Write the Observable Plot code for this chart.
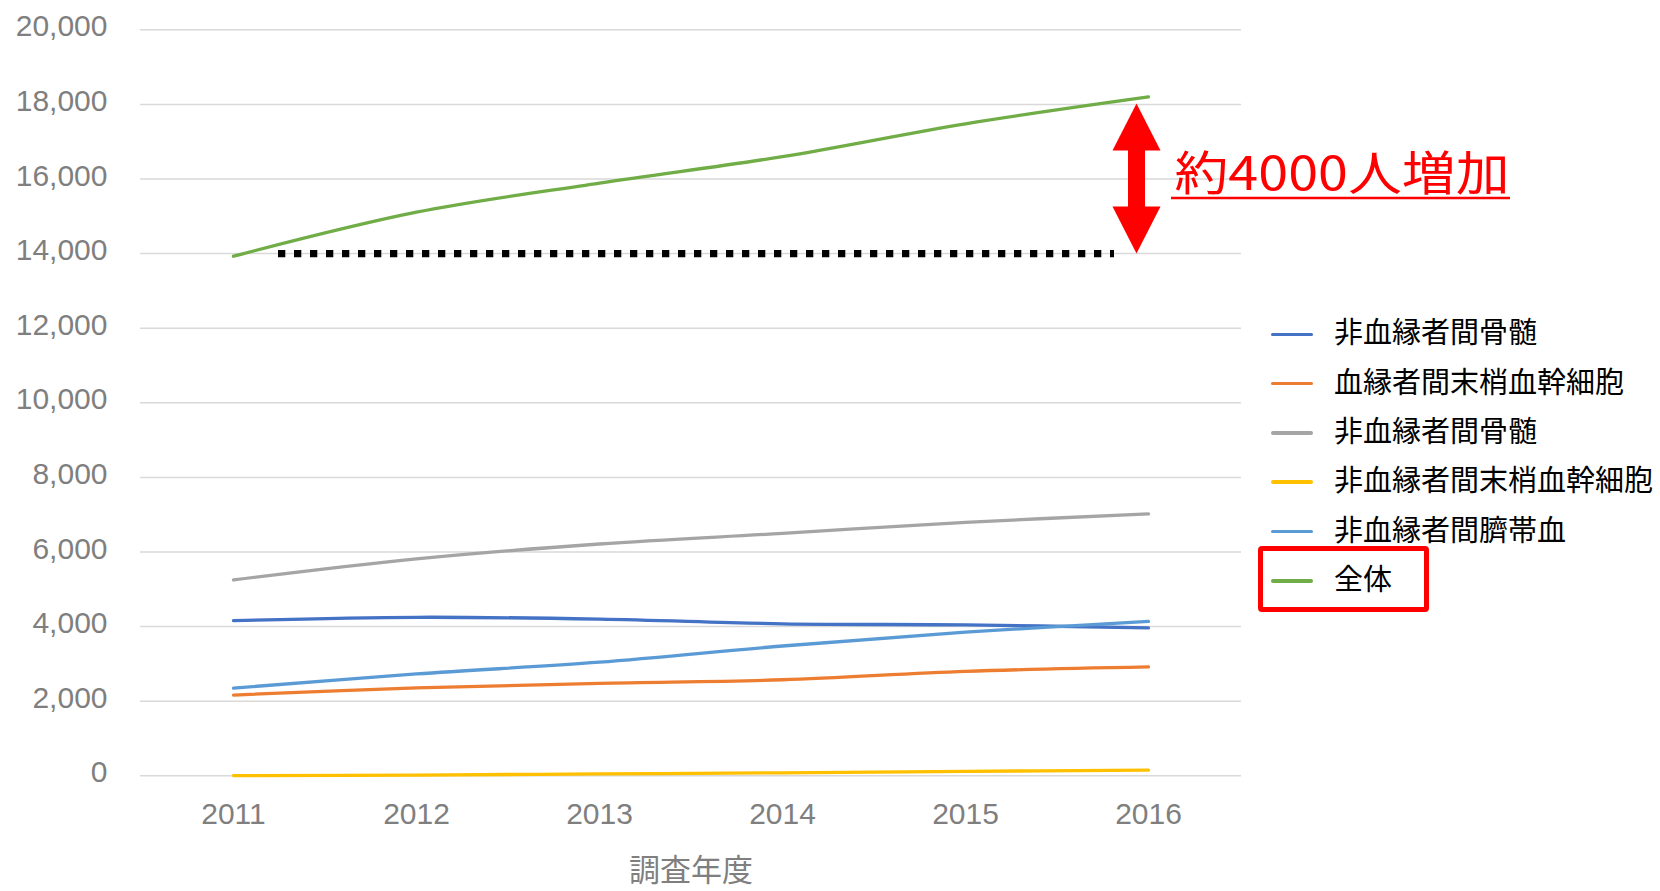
<!DOCTYPE html>
<html><head><meta charset="utf-8">
<script src="https://cdn.jsdelivr.net/npm/d3@7"></script>
<script src="https://cdn.jsdelivr.net/npm/@observablehq/plot@0.6"></script>
<style>
html,body{margin:0;padding:0;background:#fff;}
#wrap{position:relative;width:1660px;height:891px;overflow:hidden;background:#fff;}
#wrap svg{position:absolute;left:0;top:0;}
.lg-line{position:absolute;left:1271px;width:42px;height:3.5px;border-radius:2px;}
.lg-text{position:absolute;left:1334px;font-family:"Noto Sans CJK JP","Noto Sans",sans-serif;font-size:29px;line-height:29px;color:#000;white-space:nowrap;}
.lg-box{position:absolute;left:1258px;top:546px;width:171px;height:66px;border:5px solid #ff0000;box-sizing:border-box;border-radius:4px;}
</style></head><body><div id="wrap"></div>
<script>
const years = ["2011", "2012", "2013", "2014", "2015", "2016"];
const seriesNames = ["非血縁者間骨髄", "血縁者間末梢血幹細胞", "非血縁者間骨髄", "非血縁者間末梢血幹細胞", "非血縁者間臍帯血", "全体"];
const seriesColors = ["#4472C4", "#ED7D31", "#A5A5A5", "#FFC000", "#5B9BD5", "#70AD47"];
const sBoneMarrowUnrel = [4160, 4250, 4200, 4075, 4045, 3965];
const sPBSCRelated = [2165, 2355, 2480, 2575, 2800, 2920];
const sBoneMarrowGray = [5250, 5815, 6215, 6500, 6795, 7020];
const sPBSCUnrel = [5, 20, 50, 80, 120, 150];
const sCordBlood = [2350, 2730, 3045, 3480, 3850, 4140];
const sTotal = [13930, 15110, 15890, 16600, 17480, 18200];
const yTicks = [0, 2000, 4000, 6000, 8000, 10000, 12000, 14000, 16000, 18000, 20000];
const xTitle = "調査年度";
const annoLow = 14000;
const annoHigh = 18000;
const annoLabel = "約4000人増加";

const seriesValues = [sBoneMarrowUnrel, sPBSCRelated, sBoneMarrowGray, sPBSCUnrel, sCordBlood, sTotal];
const keys = seriesValues.map((_, i) => "s" + i);
const data = seriesValues.flatMap((vals, i) => vals.map((v, j) => ({key: keys[i], year: years[j], value: v})));
const annot = [{year: years[years.length - 1], first: years[0], low: annoLow, high: annoHigh, mid: (annoLow + annoHigh) / 2, label: annoLabel}];

const triUp = {draw(ctx) { ctx.moveTo(0, 0); ctx.lineTo(24, 47); ctx.lineTo(-24, 47); ctx.closePath(); }};
const triDown = {draw(ctx) { ctx.moveTo(0, 0); ctx.lineTo(24, -47); ctx.lineTo(-24, -47); ctx.closePath(); }};

const plot = Plot.plot({
  width: 1660,
  height: 891,
  marginLeft: 140,
  marginRight: 419,
  marginTop: 29.3,
  marginBottom: 115.7,
  style: {fontFamily: "'Liberation Sans', Arial, sans-serif", color: "#7f7f7f", background: "#fff"},
  x: {type: "point", domain: years, padding: 0.5, label: null},
  y: {domain: [0, 20000], label: null},
  color: {domain: keys, range: seriesColors},
  marks: [
    Plot.gridY(yTicks, {stroke: "#d9d9d9", strokeOpacity: 1, strokeWidth: 1.5}),
    Plot.axisY({ticks: yTicks, tickFormat: d3.format(","), tickSize: 0, tickPadding: 33, fontSize: 30, dy: -3, label: null}),
    Plot.axisX({tickSize: 0, tickPadding: 27, fontSize: 30, label: null}),
    Plot.text([xTitle], {frameAnchor: "bottom", dy: 105, fontSize: 31, fill: "#7f7f7f", fontFamily: "'Noto Sans CJK JP', sans-serif", text: d => d}),
    Plot.line(data, {x: "year", y: "value", z: "key", stroke: "key", strokeWidth: 3.3, curve: "catmull-rom"}),
    Plot.ruleY(annot, {y: "low", x1: "first", x2: "year", insetLeft: 45, insetRight: 34, stroke: "#000", strokeWidth: 7.3, strokeDasharray: "7.3 8.7"}),
    Plot.ruleX(annot, {x: "year", y1: "high", y2: "low", dx: -12, insetTop: 44, insetBottom: 44, stroke: "#ff0000", strokeWidth: 17}),
    Plot.dot(annot, {x: "year", y: "high", dx: -12, dy: -1, symbol: triUp, fill: "#ff0000", stroke: "none"}),
    Plot.dot(annot, {x: "year", y: "low", dx: -12, symbol: triDown, fill: "#ff0000", stroke: "none"}),
    Plot.text(annot, {x: "year", y: "mid", text: "label", dx: 26, dy: -4.5, textAnchor: "start", fontSize: 47, fill: "#ff0000", fontFamily: "'Noto Sans CJK JP', sans-serif"}),
    Plot.ruleY(annot, {y: "mid", x1: "year", x2: "year", insetLeft: 23, insetRight: -362, dy: 19, stroke: "#ff0000", strokeWidth: 2.5})
  ]
});

const wrap = document.getElementById("wrap");
wrap.appendChild(plot);
d3.select(plot).selectAll("text").filter(function() { return this.textContent === annoLabel; })
  .attr("textLength", 335).attr("lengthAdjust", "spacingAndGlyphs");

// legend
seriesNames.forEach((name, i) => {
  const cy = 334.3 + i * 49.3;
  const line = document.createElement("div");
  line.className = "lg-line";
  line.style.top = (cy - 1.75) + "px";
  line.style.background = seriesColors[i];
  wrap.appendChild(line);
  const t = document.createElement("div");
  t.className = "lg-text";
  t.style.top = (cy - 3.5 - 14.5) + "px";
  t.textContent = name;
  wrap.appendChild(t);
});
const box = document.createElement("div");
box.className = "lg-box";
wrap.appendChild(box);
</script>
</body></html>
